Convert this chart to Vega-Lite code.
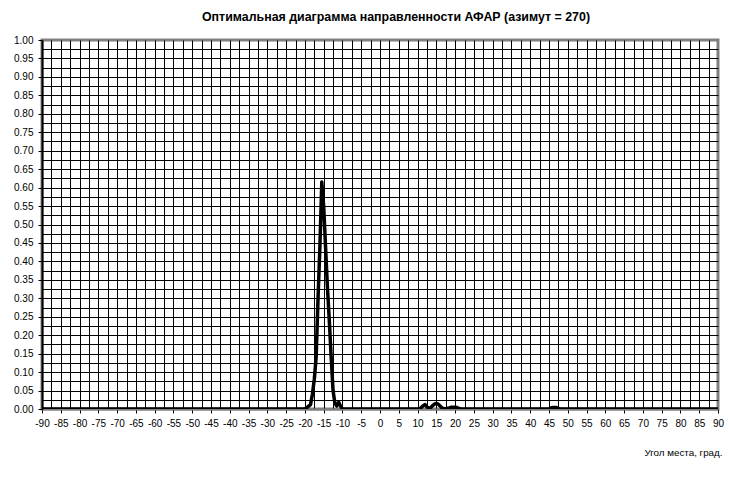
{
  "$schema": "https://vega.github.io/schema/vega-lite/v6.json",
  "width": 676,
  "height": 369,
  "autosize": "none",
  "padding": {"left": 42, "top": 40, "right": 14, "bottom": 68},
  "background": "white",
  "config": {
    "font": "Liberation Sans",
    "view": {"stroke": "#808080", "strokeWidth": 3}
  },
  "title": {
    "text": "Оптимальная диаграмма направленности АФАР (азимут = 270)",
    "fontSize": 12.4,
    "fontWeight": "bold",
    "color": "black",
    "anchor": "middle",
    "dx": 16,
    "offset": 12
  },
  "data": {
    "values": [
      {"angle": -90, "gain": 0},
      {"angle": -60, "gain": 0},
      {"angle": -30, "gain": 0},
      {"angle": -20, "gain": 0},
      {"angle": -19.5, "gain": 0.004},
      {"angle": -19, "gain": 0.008},
      {"angle": -18.5, "gain": 0.012},
      {"angle": -18, "gain": 0.04},
      {"angle": -17.5, "gain": 0.08},
      {"angle": -17, "gain": 0.14},
      {"angle": -16.5, "gain": 0.30},
      {"angle": -16, "gain": 0.44},
      {"angle": -15.5, "gain": 0.615},
      {"angle": -15, "gain": 0.55},
      {"angle": -14.5, "gain": 0.44},
      {"angle": -14, "gain": 0.33},
      {"angle": -13.5, "gain": 0.24},
      {"angle": -13, "gain": 0.14},
      {"angle": -12.5, "gain": 0.05},
      {"angle": -12, "gain": 0.015},
      {"angle": -11.5, "gain": 0.008},
      {"angle": -11, "gain": 0.018},
      {"angle": -10.5, "gain": 0.008},
      {"angle": -10, "gain": 0},
      {"angle": -5, "gain": 0},
      {"angle": 0, "gain": 0},
      {"angle": 5, "gain": 0},
      {"angle": 10.5, "gain": 0},
      {"angle": 11, "gain": 0.004},
      {"angle": 11.5, "gain": 0.009},
      {"angle": 12, "gain": 0.012},
      {"angle": 12.5, "gain": 0.006},
      {"angle": 13, "gain": 0.002},
      {"angle": 13.5, "gain": 0.004},
      {"angle": 14, "gain": 0.009},
      {"angle": 14.5, "gain": 0.013},
      {"angle": 15, "gain": 0.015},
      {"angle": 15.5, "gain": 0.013},
      {"angle": 16, "gain": 0.008},
      {"angle": 16.5, "gain": 0.003},
      {"angle": 17, "gain": 0.001},
      {"angle": 17.5, "gain": 0.001},
      {"angle": 18, "gain": 0.002},
      {"angle": 18.5, "gain": 0.003},
      {"angle": 19, "gain": 0.005},
      {"angle": 19.5, "gain": 0.005},
      {"angle": 20, "gain": 0.005},
      {"angle": 20.5, "gain": 0.004},
      {"angle": 21, "gain": 0.002},
      {"angle": 21.5, "gain": 0},
      {"angle": 30, "gain": 0},
      {"angle": 45, "gain": 0},
      {"angle": 45.5, "gain": 0.003},
      {"angle": 46, "gain": 0.004},
      {"angle": 46.5, "gain": 0.004},
      {"angle": 47, "gain": 0.004},
      {"angle": 47.5, "gain": 0.002},
      {"angle": 48, "gain": 0},
      {"angle": 60, "gain": 0},
      {"angle": 90, "gain": 0}
    ]
  },
  "mark": {"type": "line", "color": "black", "strokeWidth": 3.5, "strokeJoin": "round", "clip": true},
  "encoding": {
    "x": {
      "field": "angle",
      "type": "quantitative",
      "scale": {"domain": [-90, 90], "nice": false, "zero": false},
      "axis": {
        "values": [-90,-87.5,-85,-82.5,-80,-77.5,-75,-72.5,-70,-67.5,-65,-62.5,-60,-57.5,-55,-52.5,-50,-47.5,-45,-42.5,-40,-37.5,-35,-32.5,-30,-27.5,-25,-22.5,-20,-17.5,-15,-12.5,-10,-7.5,-5,-2.5,0,2.5,5,7.5,10,12.5,15,17.5,20,22.5,25,27.5,30,32.5,35,37.5,40,42.5,45,47.5,50,52.5,55,57.5,60,62.5,65,67.5,70,72.5,75,77.5,80,82.5,85,87.5,90],
        "labelExpr": "datum.value % 5 === 0 ? '' + datum.value : ''",
        "tickOpacity": {"condition": {"test": "datum.value % 5 === 0", "value": 1}, "value": 0},
        "gridOpacity": {"condition": {"test": "datum.value === 90", "value": 0}, "value": 1},
        "grid": true,
        "gridColor": "black",
        "gridWidth": 1,
        "domainColor": "#808080",
        "domainWidth": 2,
        "tickColor": "black",
        "tickSize": 4,
        "tickWidth": 1,
        "labelFontSize": 10,
        "labelColor": "black",
        "labelPadding": 5,
        "labelOverlap": false,
        "labelFlush": false,
        "title": "Угол места, град.",
        "titleFontSize": 9.8,
        "titleFontWeight": "normal",
        "titleColor": "black",
        "titleAnchor": "end",
        "titleAlign": "right",
        "titleX": 680,
        "titlePadding": 19
      }
    },
    "y": {
      "field": "gain",
      "type": "quantitative",
      "scale": {"domain": [0, 1], "nice": false},
      "axis": {
        "values": [0,0.025,0.05,0.075,0.1,0.125,0.15,0.175,0.2,0.225,0.25,0.275,0.3,0.325,0.35,0.375,0.4,0.425,0.45,0.475,0.5,0.525,0.55,0.575,0.6,0.625,0.65,0.675,0.7,0.725,0.75,0.775,0.8,0.825,0.85,0.875,0.9,0.925,0.95,0.975,1],
        "labelExpr": "round(datum.value * 40) % 2 === 0 ? format(datum.value, '.2f') : ''",
        "tickOpacity": {"condition": {"test": "round(datum.value * 40) % 2 === 0", "value": 1}, "value": 0},
        "gridOpacity": {"condition": {"test": "round(datum.value * 40) === 40", "value": 0}, "value": 1},
        "grid": true,
        "gridColor": "black",
        "gridWidth": 1,
        "domainColor": "black",
        "domainWidth": 2,
        "tickColor": "black",
        "tickSize": 4,
        "tickWidth": 1,
        "labelFontSize": 10,
        "labelColor": "black",
        "labelPadding": 5,
        "labelOverlap": false,
        "labelFlush": false,
        "title": null
      }
    }
  }
}
